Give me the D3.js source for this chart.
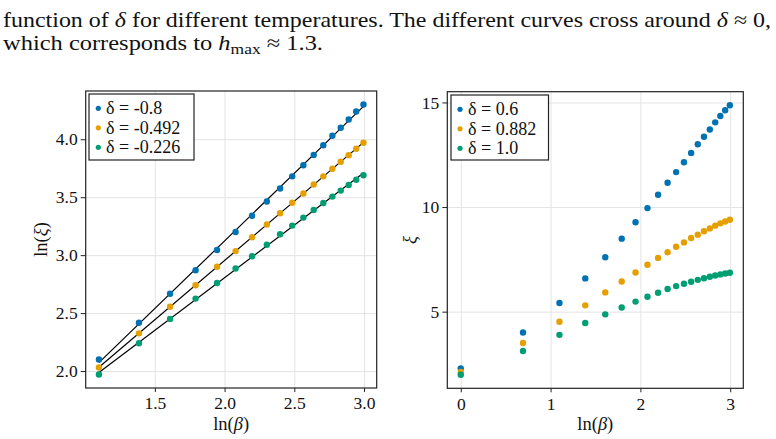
<!DOCTYPE html>
<html>
<head>
<meta charset="utf-8">
<script src="https://cdn.jsdelivr.net/npm/d3@7"></script>
<style>
  body { margin: 0; background: #fff; }
  svg text { font-family: "Liberation Serif", "DejaVu Serif", serif; fill: #111; }
</style>
</head>
<body>
<svg id="chart"></svg>
<script>
// ---- data ----
const lnBetaAll = [0, 0.693, 1.099, 1.386, 1.609, 1.792, 1.946, 2.079, 2.197, 2.303,
                   2.398, 2.485, 2.565, 2.639, 2.708, 2.773, 2.833, 2.890, 2.944, 2.996];
const lnBetaFit = [1.099, 1.386, 1.609, 1.792, 1.946, 2.079, 2.197, 2.303, 2.398,
                   2.485, 2.565, 2.639, 2.708, 2.773, 2.833, 2.890, 2.944, 2.996];

const leftDeltas = ["-0.8", "-0.492", "-0.226"];
const lnXiA = [2.10, 2.417, 2.667, 2.87, 3.045, 3.20, 3.34, 3.463, 3.575, 3.68, 3.776, 3.865, 3.948, 4.03, 4.10, 4.17, 4.24, 4.30];
const lnXiB = [2.03, 2.325, 2.555, 2.74, 2.90, 3.035, 3.155, 3.265, 3.362, 3.452, 3.532, 3.61, 3.68, 3.745, 3.806, 3.863, 3.918, 3.97];
const lnXiC = [1.97, 2.24, 2.45, 2.625, 2.76, 2.885, 2.99, 3.09, 3.18, 3.255, 3.324, 3.39, 3.45, 3.505, 3.557, 3.605, 3.65, 3.69];

const rightDeltas = ["0.6", "0.882", "1.0"];
const xiA = [2.29, 4.0, 5.41, 6.59, 7.6, 8.49, 9.27, 9.95, 10.59, 11.16, 11.67, 12.14, 12.59, 13.0, 13.36, 13.71, 14.05, 14.35, 14.63, 14.87];
const xiB = [2.12, 3.5, 4.52, 5.30, 5.92, 6.44, 6.87, 7.24, 7.57, 7.84, 8.1, 8.31, 8.52, 8.68, 8.84, 8.98, 9.11, 9.22, 9.31, 9.39];
const xiC = [1.98, 3.12, 3.89, 4.46, 4.87, 5.2, 5.48, 5.71, 5.9, 6.08, 6.22, 6.33, 6.43, 6.52, 6.6, 6.67, 6.73, 6.78, 6.82, 6.86];

const leftXTicks = [1.5, 2.0, 2.5, 3.0];
const leftYTicks = [2.0, 2.5, 3.0, 3.5, 4.0];
const rightXTicks = [0, 1, 2, 3];
const rightYTicks = [5, 10, 15];

const colors = ["#0072B2", "#E69F00", "#009E73"];

// ---- setup ----
const width = 776, height = 439;
const serif = '"Liberation Serif", "DejaVu Serif", serif';
const svg = d3.select("#chart").attr("width", width).attr("height", height);
svg.append("rect").attr("width", width).attr("height", height).attr("fill", "#fff");

// caption text above the figure
const cap1 = svg.append("text").attr("x", 3).attr("y", 26.5)
    .style("font-family", serif).style("font-size", "21px")
    .attr("textLength", 768).attr("lengthAdjust", "spacingAndGlyphs");
cap1.append("tspan").text("function of ");
cap1.append("tspan").style("font-style", "italic").text("δ");
cap1.append("tspan").text(" for different temperatures. The different curves cross around ");
cap1.append("tspan").style("font-style", "italic").text("δ");
cap1.append("tspan").text(" ≈ 0,");

const cap2 = svg.append("text").attr("x", 3).attr("y", 50)
    .style("font-family", serif).style("font-size", "21px")
    .attr("textLength", 320).attr("lengthAdjust", "spacingAndGlyphs");
cap2.append("tspan").text("which corresponds to ");
cap2.append("tspan").style("font-style", "italic").text("h");
cap2.append("tspan").attr("dy", 4).style("font-size", "15px").text("max");
cap2.append("tspan").attr("dy", -4).text(" ≈ 1.3.");

// Makie-like 5% margin limits
function padded(ext) {
  const m = (ext[1] - ext[0]) * 0.05;
  return [ext[0] - m, ext[1] + m];
}

function drawPanel(cfg) {
  const {x0, x1, y0, y1} = cfg.box;
  const x = d3.scaleLinear().domain(padded(d3.extent(cfg.xs))).range([x0, x1]);
  const allY = cfg.series.flat();
  const y = d3.scaleLinear().domain(padded(d3.extent(allY))).range([y1, y0]);
  const g = svg.append("g");

  // grid
  g.append("g").attr("transform", `translate(0,${y1})`)
    .call(d3.axisBottom(x).tickValues(cfg.xTicks).tickSize(-(y1 - y0)).tickFormat(""))
    .call(s => s.select(".domain").remove())
    .call(s => s.selectAll("line").attr("stroke", "#e4e4e4").attr("stroke-width", 1));
  g.append("g").attr("transform", `translate(${x0},0)`)
    .call(d3.axisLeft(y).tickValues(cfg.yTicks).tickSize(-(x1 - x0)).tickFormat(""))
    .call(s => s.select(".domain").remove())
    .call(s => s.selectAll("line").attr("stroke", "#e4e4e4").attr("stroke-width", 1));

  // fit lines (least squares through the points)
  if (cfg.fit) {
    cfg.series.forEach(ys => {
      const mx = d3.mean(cfg.xs), my = d3.mean(ys);
      const sxy = d3.sum(cfg.xs, (v, i) => (v - mx) * (ys[i] - my));
      const sxx = d3.sum(cfg.xs, v => (v - mx) * (v - mx));
      const b = sxy / sxx, a = my - b * mx;
      const ext = d3.extent(cfg.xs);
      g.append("line")
        .attr("x1", x(ext[0])).attr("y1", y(a + b * ext[0]))
        .attr("x2", x(ext[1])).attr("y2", y(a + b * ext[1]))
        .attr("stroke", "#000").attr("stroke-width", 1.2);
    });
  }

  // points
  cfg.series.forEach((ys, k) => {
    g.append("g").selectAll("circle")
      .data(ys)
      .enter()
      .append("circle")
        .attr("cx", (d, i) => x(cfg.xs[i]))
        .attr("cy", d => y(d))
        .attr("r", 3.2)
        .attr("fill", colors[k]);
  });

  // frame
  g.append("rect").attr("x", x0).attr("y", y0)
    .attr("width", x1 - x0).attr("height", y1 - y0)
    .attr("fill", "none").attr("stroke", "#222").attr("stroke-width", 1.2);

  // axes
  const xa = g.append("g").attr("transform", `translate(0,${y1})`)
    .call(d3.axisBottom(x).tickValues(cfg.xTicks).tickSize(4).tickPadding(5).tickFormat(cfg.xFmt));
  const ya = g.append("g").attr("transform", `translate(${x0},0)`)
    .call(d3.axisLeft(y).tickValues(cfg.yTicks).tickSize(5).tickPadding(3).tickFormat(cfg.yFmt));
  [xa, ya].forEach(a => {
    a.attr("font-family", null).attr("font-size", null);
    a.select(".domain").remove();
    a.selectAll("line").attr("stroke", "#222");
    a.selectAll("text").style("font-size", "17.5px")
      .style("font-family", serif).attr("fill", "#111");
  });

  // x label ln(β)
  const xl = g.append("text").attr("x", (x0 + x1) / 2).attr("y", 430)
    .style("font-family", serif)
    .style("text-anchor", "middle").style("font-size", "18.5px");
  xl.append("tspan").text("ln(");
  xl.append("tspan").style("font-style", "italic").text("β");
  xl.append("tspan").text(")");

  // y label
  const yl = g.append("text")
    .attr("transform", `translate(${cfg.yLabelX},${(y0 + y1) / 2}) rotate(-90)`)
    .style("font-family", serif)
    .style("text-anchor", "middle").style("font-size", "18.5px");
  if (cfg.logY) {
    yl.append("tspan").text("ln(");
    yl.append("tspan").style("font-style", "italic").text("ξ");
    yl.append("tspan").text(")");
  } else {
    yl.append("tspan").style("font-style", "italic").text("ξ");
  }

  // legend
  const L = cfg.legend;
  g.append("rect").attr("x", L.x0).attr("y", L.y0)
    .attr("width", L.x1 - L.x0).attr("height", L.y1 - L.y0)
    .attr("fill", "#fff").attr("stroke", "#222").attr("stroke-width", 1.2);
  cfg.deltas.forEach((d, k) => {
    const cy = L.y0 + 14.3 + k * 19.5;
    g.append("circle").attr("cx", L.dotX).attr("cy", cy).attr("r", 2.6).attr("fill", colors[k]);
    g.append("text").attr("x", L.textX).attr("y", cy + 6)
      .style("font-family", serif)
      .style("font-size", "18px").text(`δ = ${d}`);
  });
}

drawPanel({
  box: {x0: 85.7, x1: 376.7, y0: 91, y1: 388},
  xs: lnBetaFit,
  series: [lnXiA, lnXiB, lnXiC],
  xTicks: leftXTicks, yTicks: leftYTicks,
  xFmt: d3.format(".1f"), yFmt: d3.format(".1f"),
  fit: true, logY: true, yLabelX: 47,
  deltas: leftDeltas,
  legend: {x0: 89, x1: 194, y0: 94, y1: 160, dotX: 98.3, textX: 106}
});

drawPanel({
  box: {x0: 447.3, x1: 743.3, y0: 91.7, y1: 388.3},
  xs: lnBetaAll,
  series: [xiA, xiB, xiC],
  xTicks: rightXTicks, yTicks: rightYTicks,
  xFmt: d3.format("d"), yFmt: d3.format("d"),
  fit: false, logY: false, yLabelX: 416,
  deltas: rightDeltas,
  legend: {x0: 451, x1: 548.5, y0: 95, y1: 160, dotX: 460, textX: 468}
});
</script>
</body>
</html>
